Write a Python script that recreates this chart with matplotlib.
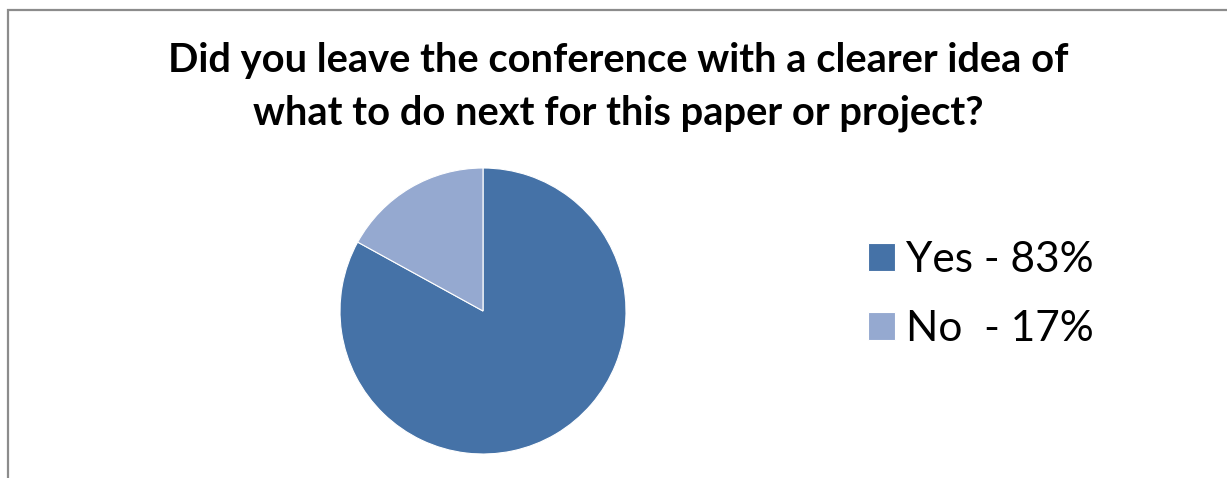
import matplotlib
matplotlib.use("Agg")
import matplotlib.pyplot as plt
from matplotlib.patches import Rectangle

labels = ["Yes - 83%", "No  - 17%"]
values = [83, 17]
colors = ["#4572A7", "#95A9D0"]
title = "Did you leave the conference with a clearer idea of\nwhat to do next for this paper or project?"

W, H = 1227, 478
fig = plt.figure(figsize=(W / 100, H / 100), dpi=100)
fig.patch.set_facecolor("white")

# outer chart frame (cropped at right and bottom)
fig.add_artist(Rectangle((8 / W, -0.1), 1.2, (H - 10) / H + 0.1, transform=fig.transFigure,
                         fill=False, edgecolor="#8c8c8c", linewidth=1.6))

cx, cy, r = 483, 311, 143
ax = fig.add_axes([(cx - r) / W, (H - cy - r) / H, 2 * r / W, 2 * r / H])
wedges, _ = ax.pie(values, colors=colors, startangle=90, counterclock=False, radius=1,
                   wedgeprops=dict(edgecolor="white", linewidth=0.8))
ax.set_xlim(-1, 1)
ax.set_ylim(-1, 1)
ax.set_aspect("equal")
ax.axis("off")

fig.text(618 / W, 1 - 87 / H, title, ha="center", va="center", fontsize=28.7,
         fontweight="bold", family="Lato", linespacing=1.52)

leg = fig.legend(wedges, labels, loc="upper left", bbox_to_anchor=(868 / W, 1 - 241 / H),
                 frameon=False, prop=dict(family="Lato", size=30.5),
                 handlelength=0.64, handleheight=0.64, handletextpad=0.26,
                 labelspacing=0.74, borderaxespad=0, borderpad=0)

fig.savefig("out.png", dpi=100, facecolor="white")
